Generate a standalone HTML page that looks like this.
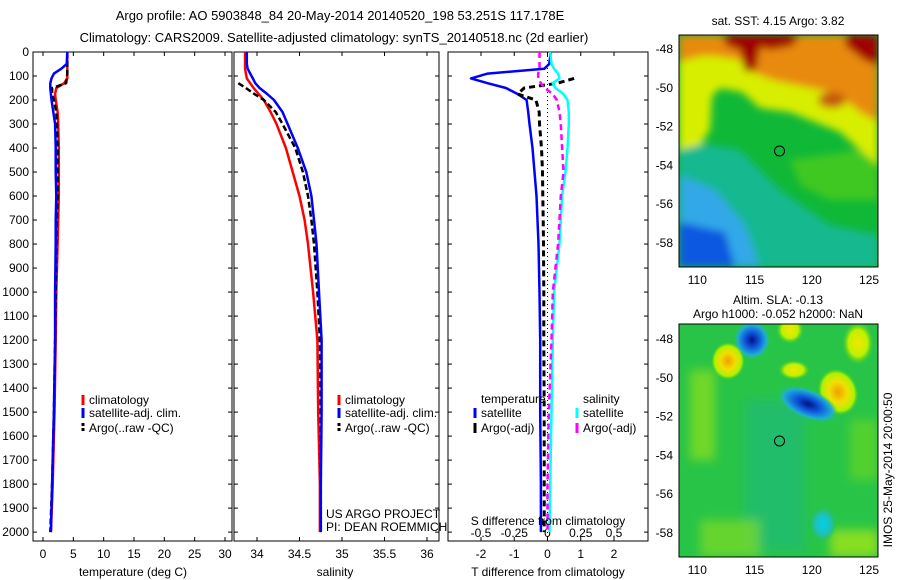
<!DOCTYPE html>
<html><head><meta charset="utf-8">
<style>
html,body{margin:0;padding:0;background:#fff;}
svg{display:block;font-family:"Liberation Sans",sans-serif;font-size:12px;}
</style></head>
<body>
<svg id="fig" width="900" height="580" viewBox="0 0 900 580" xmlns="http://www.w3.org/2000/svg">
<defs>
<filter id="bl" x="-20%" y="-20%" width="140%" height="140%"><feGaussianBlur stdDeviation="4"/></filter>
<filter id="bl2" x="-50%" y="-50%" width="200%" height="200%"><feGaussianBlur stdDeviation="5"/></filter>
<clipPath id="cm1"><rect x="679" y="35" width="199" height="232"/></clipPath>
<clipPath id="cm2"><rect x="679" y="324" width="199" height="233"/></clipPath>
<radialGradient id="gBlue"><stop offset="0" stop-color="#00108a"/><stop offset="0.45" stop-color="#1060e0"/><stop offset="0.8" stop-color="#20b0d0"/><stop offset="1" stop-color="#20c080" stop-opacity="0"/></radialGradient>
<radialGradient id="gOr"><stop offset="0" stop-color="#f0a000"/><stop offset="0.45" stop-color="#f0e000"/><stop offset="0.8" stop-color="#b0f000"/><stop offset="1" stop-color="#40d020" stop-opacity="0"/></radialGradient>
<radialGradient id="gYe"><stop offset="0" stop-color="#f0e800"/><stop offset="0.6" stop-color="#c0f000"/><stop offset="1" stop-color="#40d020" stop-opacity="0"/></radialGradient>
<radialGradient id="gCy"><stop offset="0" stop-color="#00d0f0"/><stop offset="0.6" stop-color="#20c0b0"/><stop offset="1" stop-color="#20c060" stop-opacity="0"/></radialGradient>
</defs>

<text x="340" y="20" text-anchor="middle" font-size="13">Argo profile: AO 5903848_84 20-May-2014 20140520_198 53.251S 117.178E</text>
<text x="334" y="42" text-anchor="middle" font-size="13">Climatology: CARS2009. Satellite-adjusted climatology: synTS_20140518.nc (2d earlier)</text>

<g id="plots"></g>

<!-- SST map -->
<g clip-path="url(#cm1)">
<rect x="679" y="35" width="199" height="232" fill="#10b838"/>
<g filter="url(#bl)">
<polygon points="679,140 740,150 780,190 830,225 878,235 878,267 679,267" fill="#18b890"/>
<polygon points="679,175 715,190 745,225 760,267 679,267" fill="#30a8e8"/>
<polygon points="679,222 725,232 735,267 679,267" fill="#1058e0"/>
<polygon points="790,160 860,150 878,160 878,200 830,200 800,185" fill="#40c820"/>
<polygon points="679,35 878,35 878,165 860,150 840,132 815,122 790,112 760,108 742,92 720,88 712,96 710,130 700,145 679,150" fill="#d8ee00"/>
<polygon points="679,35 878,35 878,122 860,112 845,100 830,92 800,86 772,80 752,72 740,60 715,56 700,56 679,62" fill="#e88a10"/>
<ellipse cx="832" cy="100" rx="14" ry="8" fill="#c85810"/>
<polygon points="722,35 800,35 792,46 770,50 760,47 756,70 745,72 740,50 727,46" fill="#a00000"/>
<polygon points="845,35 878,35 878,66 864,60 846,46" fill="#a00000"/>
</g>
</g>
<rect x="679" y="35" width="199" height="232" fill="none" stroke="#000"/>
<circle cx="779.5" cy="151" r="5" fill="none" stroke="#000"/>
<text x="778" y="25" text-anchor="middle">sat. SST: 4.15 Argo: 3.82</text>

<!-- SLA map -->
<g clip-path="url(#cm2)">
<rect x="679" y="324" width="199" height="233" fill="#28c448"/>
<g filter="url(#bl2)">
<rect x="745" y="400" width="60" height="150" fill="#20b880" opacity="0.6"/>
<rect x="690" y="370" width="25" height="90" fill="#90e020" opacity="0.7"/>
<rect x="850" y="420" width="28" height="60" fill="#70d820" opacity="0.6"/>
<rect x="700" y="520" width="60" height="37" fill="#90e020" opacity="0.6"/>
<rect x="830" y="530" width="48" height="27" fill="#b0e810" opacity="0.7"/>
</g>
<ellipse cx="752" cy="340" rx="18" ry="19" fill="url(#gBlue)"/>
<ellipse cx="728" cy="361" rx="17" ry="19" fill="url(#gOr)"/>
<ellipse cx="838" cy="392" rx="20" ry="24" fill="url(#gOr)" transform="rotate(-20 838 392)"/>
<ellipse cx="858" cy="343" rx="16" ry="22" fill="url(#gYe)"/>
<ellipse cx="808" cy="404" rx="32" ry="15" fill="url(#gBlue)" transform="rotate(22 808 404)"/>
<ellipse cx="823" cy="524" rx="14" ry="18" fill="url(#gCy)"/>
<ellipse cx="790" cy="330" rx="14" ry="14" fill="url(#gYe)"/>
<ellipse cx="794" cy="370" rx="16" ry="10" fill="url(#gYe)"/>
</g>
<rect x="679" y="324" width="199" height="233" fill="none" stroke="#000"/>
<circle cx="779.5" cy="441" r="5" fill="none" stroke="#000"/>
<text x="778" y="304" text-anchor="middle">Altim. SLA: -0.13</text>
<text x="778" y="318" text-anchor="middle">Argo h1000: -0.052 h2000: NaN</text>
<text transform="translate(892,470) rotate(-90)" text-anchor="middle">IMOS 25-May-2014 20:00:50</text>
</svg>

<script>
// ---- data ----
const depths = [0,50,70,90,110,130,150,175,200,250,300,400,500,600,700,800,1000,1200,1500,1800,2000];
const tClim = [4.0,4.0,4.0,4.0,4.0,3.5,2.2,2.0,2.1,2.4,2.5,2.6,2.6,2.6,2.5,2.4,2.2,2.1,1.9,1.6,1.3];
const tSat  = [4.0,3.9,3.0,1.8,1.4,1.2,1.2,1.3,1.4,1.7,2.0,2.1,2.1,2.2,2.1,2.1,2.0,2.0,1.8,1.5,1.3];
const tArgo = [4.0,4.0,4.0,4.0,3.9,3.8,1.5,1.5,1.8,2.2,2.3,2.4,2.4,2.4,2.3,2.2,2.1,2.0,1.8,1.5,1.2];
const sClim = [33.86,33.86,33.86,33.87,33.88,33.92,33.96,34.02,34.08,34.16,34.23,34.34,34.42,34.5,34.56,34.6,34.66,34.71,34.72,34.74,34.74];
const sSat  = [33.88,33.88,33.89,33.92,33.95,33.98,34.03,34.12,34.2,34.3,34.36,34.48,34.58,34.64,34.67,34.7,34.73,34.76,34.76,34.75,34.75];
const sArgo = [null,null,null,null,null,33.78,33.87,33.97,34.08,34.22,34.3,34.45,34.54,34.6,34.64,34.67,34.71,34.74,34.75,34.75,34.75];
const dTSat  = [0.1,0.05,-0.1,-1.8,-2.3,-1.8,-1.25,-0.9,-0.63,-0.58,-0.54,-0.45,-0.39,-0.33,-0.3,-0.27,-0.24,-0.22,-0.22,-0.2,-0.2];
const dTArgo = [null,null,null,null,0.8,0.3,-0.7,-0.9,-0.35,-0.25,-0.24,-0.18,-0.15,-0.14,-0.13,-0.12,-0.11,-0.11,-0.1,-0.1,-0.1];
const dSSat  = [0.02,0.03,0.05,0.08,0.09,0.04,0.06,0.12,0.15,0.16,0.16,0.15,0.135,0.11,0.1,0.09,0.05,0.04,0.03,0.02,0.015];
const dSArgo = [-0.06,-0.06,-0.06,-0.07,-0.07,-0.05,-0.02,0.04,0.07,0.09,0.1,0.11,0.12,0.1,0.09,0.08,0.04,0.03,0.01,0,0];
const depthTicks = [0,100,200,300,400,500,600,700,800,900,1000,1100,1200,1300,1400,1500,1600,1700,1800,1900,2000];
const tempTicks = [0,5,10,15,20,25,30];
const salTicks = [34,34.5,35,35.5,36];
const dTTicks = [-2,-1,0,1,2];
const dSTicks = [-0.5,-0.25,0,0.25,0.5];
const dSTickLabels = ["-0.5","-0.25","0","0.25","0.5"];
const latTicks = [-48,-50,-52,-54,-56,-58];
const lonTicks = [110,115,120,125];

const NS="http://www.w3.org/2000/svg";
const root=document.getElementById('plots');
const TOP=52, BOT=541, DMAX=2037;
const yD = d => TOP + d/DMAX*(BOT-TOP);
function mk(tag,attrs,parent){const e=document.createElementNS(NS,tag);for(const k in attrs)e.setAttribute(k,attrs[k]);(parent||root).appendChild(e);return e;}
function txt(x,y,s,anchor,parent,size){const t=mk('text',{x:x,y:y,'text-anchor':anchor||'middle'},parent);if(size)t.setAttribute('font-size',size);t.textContent=s;return t;}
function lin(x0,x1,v0,v1){return v=>x0+(v-v0)/(v1-v0)*(x1-x0);}
function series(vals,xf,color,width,dash,name){
  let segs=[],cur=[];
  vals.forEach((v,i)=>{if(v===null){if(cur.length)segs.push(cur);cur=[];}else cur.push(xf(v).toFixed(1)+','+yD(depths[i]).toFixed(1));});
  if(cur.length)segs.push(cur);
  segs.forEach(s=>{
    const p=mk('polyline',{points:s.join(' '),fill:'none',stroke:color,'stroke-width':width,'stroke-linejoin':'round'});
    if(dash)p.setAttribute('stroke-dasharray',dash);
    
    
  });
}
function frame(x0,x1,name){
  const r=mk('rect',{x:x0,y:TOP,width:x1-x0,height:BOT-TOP,fill:'none',stroke:'#000'});
  
  
}
function xticks(xf,ticks,labels,ly){
  ticks.forEach((t,i)=>{
    const x=xf(t);
    mk('line',{x1:x,x2:x,y1:TOP,y2:TOP+4,stroke:'#000'});
    mk('line',{x1:x,x2:x,y1:BOT,y2:BOT-4,stroke:'#000'});
    if(labels){const l=txt(x,ly,labels[i]);
      
      }
  });
}
function yticks(x0,x1,labels){
  depthTicks.forEach(d=>{
    const y=yD(d);
    mk('line',{x1:x0,x2:x0+4,y1:y,y2:y,stroke:'#000'});
    mk('line',{x1:x1,x2:x1-4,y1:y,y2:y,stroke:'#000'});
    if(labels){const l=txt(x0-4,y+4,String(d),'end');
      
      }
  });
}
function legendEntry(x,y,color,label,dash){
  const g=mk('g',{});
  
  
  const l=mk('line',{x1:x,x2:x,y1:y-9,y2:y+1,stroke:color,'stroke-width':3},g);
  if(dash)l.setAttribute('stroke-dasharray',dash);
  txt(x+6,y,label,'start',g);
}

// Panel 1 temperature
const xT=lin(43,225,0,30);
frame(33,232,'temperature-panel');
yticks(33,232,true);
xticks(xT,tempTicks,tempTicks.map(String),558);
series(tClim,xT,'#ff0000',2.5,null,'temp-climatology-line');
series(tArgo,xT,'#000',2.5,'6,3','temp-argo-line');
series(tSat,xT,'#0000ff',2.5,null,'temp-satellite-line');
let l1=txt(133,576,'temperature (deg C)');


legendEntry(83,404,'#ff0000','climatology');
legendEntry(83,417,'#0000ff','satellite-adj. clim.');
legendEntry(83,432,'#000','Argo(..raw -QC)','3,2');

// Panel 2 salinity
const xS=lin(257,427,34,36);
frame(234,439,'salinity-panel');
yticks(234,439,false);
xticks(xS,salTicks,['34','34.5','35','35.5','36'],558);
series(sClim,xS,'#ff0000',2.5,null,'sal-climatology-line');
series(sArgo,xS,'#000',2.5,'6,3','sal-argo-line');
series(sSat,xS,'#0000ff',2.5,null,'sal-satellite-line');
let l2=txt(335,576,'salinity');


legendEntry(339,404,'#ff0000','climatology');
legendEntry(339,417,'#0000ff','satellite-adj. clim.');
legendEntry(339,432,'#000','Argo(..raw -QC)','3,2');
let c1=txt(326,518,'US ARGO PROJECT','start');


let c2=txt(326,531,'PI: DEAN ROEMMICH','start');



// Panel 3 differences
const xdT=lin(481,614,-2,2);
const xdS=lin(481,614,-0.5,0.5);
frame(448,648,'difference-panel');
yticks(448,648,false);
xticks(xdT,dTTicks,dTTicks.map(String),558);
dSTicks.forEach((t,i)=>{const l=txt(xdS(t),537,dSTickLabels[i]);
  
  });
mk('line',{x1:xdT(0),x2:xdT(0),y1:TOP,y2:BOT,stroke:'#000','stroke-dasharray':'1,3'});
series(dTSat,xdT,'#0000ff',2.5,null,'tdiff-satellite-line');
series(dTArgo,xdT,'#000',3,'6,4','tdiff-argo-line');
series(dSSat,xdS,'#00ffff',2.5,null,'sdiff-satellite-line');
series(dSArgo,xdS,'#ff00ff',2.5,'6,4','sdiff-argo-line');
let l3=txt(548,576,'T difference from climatology');


let l4=txt(548,525,'S difference from climatology');


let lg1=txt(481,403,'temperature','start');


let lg2=txt(583,403,'salinity','start');


legendEntry(475,417,'#0000ff','satellite');
legendEntry(475,432,'#000','Argo(-adj)');
legendEntry(577,417,'#00ffff','satellite');
legendEntry(577,432,'#ff00ff','Argo(-adj)');

// Map axes
const lonX=v=>679+(v-108.4)*11.45;
function mapAxes(top,bottom,lat48y,name){
  const latY=v=>lat48y+(-48-v)*19.4;
  latTicks.forEach(v=>{const y=latY(v);
    mk('line',{x1:679,x2:683,y1:y,y2:y,stroke:'#000'});
    mk('line',{x1:878,x2:874,y1:y,y2:y,stroke:'#000'});
    const l=txt(673,y+4,String(v),'end');
    
    });
  lonTicks.forEach(v=>{const x=lonX(v);
    mk('line',{x1:x,x2:x,y1:top,y2:top+4,stroke:'#000'});
    mk('line',{x1:x,x2:x,y1:bottom,y2:bottom-4,stroke:'#000'});
    const l=txt(x,bottom+17,String(v));
    
    });
}
mapAxes(35,267,49,'sst-map');
mapAxes(324,557,339,'sla-map');
</script>
</body></html>
